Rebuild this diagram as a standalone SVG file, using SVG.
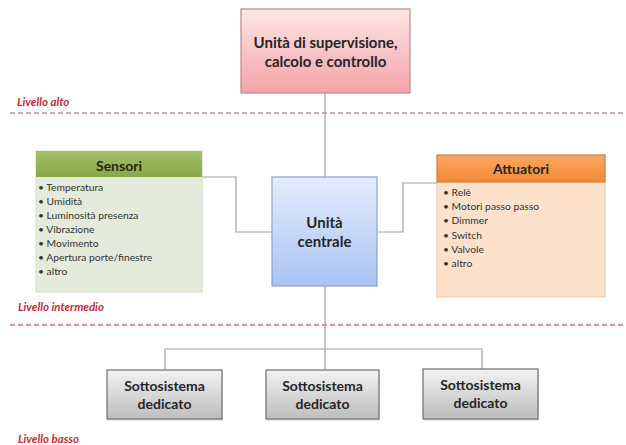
<svg xmlns="http://www.w3.org/2000/svg" width="626" height="445" viewBox="0 0 626 445">
<defs>
<linearGradient id="gPink" x1="0" y1="0" x2="0" y2="1"><stop offset="0" stop-color="#fde6e6"/><stop offset="1" stop-color="#f3a4a8"/></linearGradient>
<linearGradient id="gBlue" x1="0" y1="0" x2="0" y2="1"><stop offset="0" stop-color="#e4ecfc"/><stop offset="1" stop-color="#a9c3f3"/></linearGradient>
<linearGradient id="gGreen" x1="0" y1="0" x2="0" y2="1"><stop offset="0" stop-color="#a3c06a"/><stop offset="1" stop-color="#86a847"/></linearGradient>
<linearGradient id="gOrange" x1="0" y1="0" x2="0" y2="1"><stop offset="0" stop-color="#fba662"/><stop offset="1" stop-color="#f28a37"/></linearGradient>
<linearGradient id="gGray" x1="0" y1="0" x2="0" y2="1"><stop offset="0" stop-color="#f2f2f2"/><stop offset="1" stop-color="#bdbdbd"/></linearGradient>
</defs>
<style>
.title{font-family:Lato,"Open Sans","Liberation Sans",sans-serif;font-weight:bold;fill:#262626;text-anchor:middle}
.item{font-family:Lato,"Open Sans","Liberation Sans",sans-serif;font-size:10.3px;fill:#333}
.lvl{font-family:Lato,"Open Sans","Liberation Sans",sans-serif;font-weight:bold;font-style:italic;font-size:11.5px;fill:#c42a3a}
.conn{fill:none;stroke:#9aa0a8;stroke-width:1.2}
.dash{stroke-width:1.6;stroke-dasharray:5 3;fill:none}
</style>
<g id="levels">
<line class="dash" x1="10" y1="113" x2="626" y2="113" stroke="#b89496"/>
<line class="dash" x1="10" y1="325" x2="626" y2="325" stroke="#c8747e"/>
<text class="lvl" x="17" y="106">Livello alto</text>
<text class="lvl" x="18" y="311">Livello intermedio</text>
<text class="lvl" x="18" y="443">Livello basso</text>
</g>
<g id="connectors">
<path class="conn" d="M325,93 V177"/>
<path class="conn" d="M202,177 H236 V232 H272"/>
<path class="conn" d="M377,232 H403 V183 H437"/>
<path class="conn" d="M325,286 V349" stroke="#7a8090"/>
<path class="conn" d="M165,369 V349 H482 V369"/>
<path class="conn" d="M325,349 V369"/>
</g>
<g id="supervisione">
<rect x="241" y="9" width="169" height="84" fill="url(#gPink)" stroke="#b88c8e" stroke-width="1.2"/>
<text class="title" x="325.5" y="48" font-size="15">Unità di supervisione,</text>
<text class="title" x="325.5" y="67" font-size="15">calcolo e controllo</text>
</g>
<g id="centrale">
<rect x="272" y="177" width="105" height="109" fill="url(#gBlue)" stroke="#8ea2c8" stroke-width="1.2"/>
<text class="title" x="324.5" y="228" font-size="15">Unità</text>
<text class="title" x="324.5" y="247" font-size="15">centrale</text>
</g>
<g id="sensori">
<rect x="36" y="151" width="166" height="141" fill="#e5ebdb" stroke="#d6dccb" stroke-width="1"/>
<rect x="36" y="151" width="166" height="26" fill="url(#gGreen)"/>
<text class="title" x="119" y="171" font-size="14">Sensori</text>
<text class="item" x="38" y="191">• Temperatura</text>
<text class="item" x="38" y="205">• Umidità</text>
<text class="item" x="38" y="219">• Luminosità presenza</text>
<text class="item" x="38" y="233">• Vibrazione</text>
<text class="item" x="38" y="247">• Movimento</text>
<text class="item" x="38" y="261">• Apertura porte/finestre</text>
<text class="item" x="38" y="275">• altro</text>
</g>
<g id="attuatori">
<rect x="437" y="155" width="168" height="142" fill="#fde1cb" stroke="#e8c8b4" stroke-width="1"/>
<rect x="437" y="155" width="168" height="27" fill="url(#gOrange)" stroke="#b87a4a" stroke-width="1"/>
<text class="title" x="521" y="174" font-size="14">Attuatori</text>
<text class="item" x="443" y="196">• Relè</text>
<text class="item" x="443" y="210">• Motori passo passo</text>
<text class="item" x="443" y="224">• Dimmer</text>
<text class="item" x="443" y="239">• Switch</text>
<text class="item" x="443" y="253">• Valvole</text>
<text class="item" x="443" y="267">• altro</text>
</g>
<g id="sottosistema1">
<rect x="108" y="372" width="115" height="49" fill="#d8d8d8" opacity="0.6"/>
<rect x="107" y="370" width="115" height="49" fill="url(#gGray)" stroke="#6e6e6e" stroke-width="1.2"/>
<text class="title" x="164.5" y="391" font-size="14">Sottosistema</text>
<text class="title" x="164.5" y="409" font-size="14">dedicato</text>
</g>
<g id="sottosistema2">
<rect x="267" y="372" width="113" height="49" fill="#d8d8d8" opacity="0.6"/>
<rect x="266" y="370" width="113" height="49" fill="url(#gGray)" stroke="#6e6e6e" stroke-width="1.2"/>
<text class="title" x="322.5" y="391" font-size="14">Sottosistema</text>
<text class="title" x="322.5" y="409" font-size="14">dedicato</text>
</g>
<g id="sottosistema3">
<rect x="424" y="371" width="115" height="50" fill="#d8d8d8" opacity="0.6"/>
<rect x="423" y="369" width="115" height="50" fill="url(#gGray)" stroke="#6e6e6e" stroke-width="1.2"/>
<text class="title" x="480.5" y="390" font-size="14">Sottosistema</text>
<text class="title" x="480.5" y="408" font-size="14">dedicato</text>
</g>
</svg>
